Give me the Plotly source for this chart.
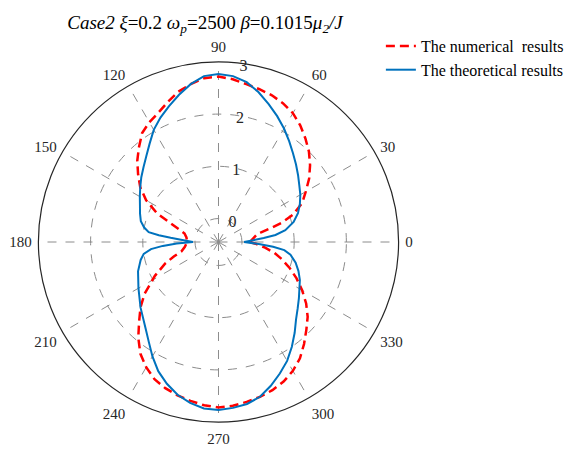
import plotly.graph_objects as go

# Numerical results (red dashed): polar angle in degrees and radius
num_theta = [0, 6, 11, 13, 15, 17, 20, 25, 30, 35, 40, 45, 50, 55, 60, 65, 70, 75, 80, 85, 90,
             95, 100, 105, 110, 115, 120, 125, 130, 135, 140, 145, 150, 155, 158, 162, 166, 172, 180,
             188, 194, 198, 202, 208, 215, 220, 225, 230, 235, 240, 245, 250, 255, 260, 265, 270,
             275, 280, 285, 290, 295, 300, 305, 310, 315, 320, 325, 330, 335, 340, 345, 349, 353, 357, 360]
num_r = [0.15, 0.22, 0.30, 0.40, 0.60, 0.82, 1.06, 1.32, 1.48, 1.67, 1.84, 2.00, 2.14, 2.28, 2.40, 2.48, 2.54, 2.58, 2.62, 2.68, 2.72,
         2.70, 2.62, 2.53, 2.40, 2.28, 2.20, 2.10, 1.92, 1.75, 1.56, 1.38, 1.15, 0.85, 0.58, 0.35, 0.22, 0.17, 0.15,
         0.20, 0.28, 0.45, 0.65, 0.93, 1.28, 1.50, 1.70, 1.94, 2.16, 2.32, 2.45, 2.53, 2.59, 2.64, 2.69, 2.72,
         2.70, 2.66, 2.62, 2.57, 2.50, 2.40, 2.27, 2.10, 1.93, 1.78, 1.60, 1.40, 1.20, 1.00, 0.80, 0.64, 0.45, 0.28, 0.15]

# Theoretical results (blue solid)
theo_theta = [0, 3, 5, 7, 10, 15, 20, 25, 30, 35, 40, 45, 50, 55, 60, 65, 70, 75, 80, 85, 90,
              95, 100, 105, 110, 115, 120, 125, 130, 135, 140, 145, 150, 155, 160, 165, 169, 172, 173.5, 175, 177, 180,
              182, 184, 186, 189, 193, 200, 210, 220, 230, 235, 240, 245, 250, 255, 260, 265, 270,
              275, 280, 285, 290, 295, 300, 305, 310, 315, 320, 325, 330, 335, 340, 345, 350, 353, 355, 357, 360]
theo_r = [0.04, 0.22, 0.42, 0.65, 0.85, 1.04, 1.17, 1.27, 1.36, 1.44, 1.54, 1.65, 1.77, 1.91, 2.06, 2.21, 2.36, 2.52, 2.66, 2.74, 2.77,
          2.74, 2.62, 2.47, 2.32, 2.18, 2.03, 1.85, 1.70, 1.58, 1.48, 1.38, 1.29, 1.21, 1.15, 1.09, 1.00, 0.90, 0.70, 0.47, 0.22, 0.04,
          0.35, 0.62, 0.85, 1.00, 1.08, 1.19, 1.32, 1.50, 1.72, 1.88, 2.08, 2.28, 2.44, 2.58, 2.68, 2.75, 2.77,
          2.74, 2.70, 2.62, 2.48, 2.33, 2.18, 2.00, 1.82, 1.65, 1.53, 1.43, 1.34, 1.27, 1.18, 1.08, 0.95, 0.82, 0.60, 0.35, 0.04]

angle_ticks = [0, 30, 60, 90, 120, 150, 180, 210, 240, 270, 300, 330]
radial_ticks = [0, 1, 2, 3]

W, H = 569, 451
SERIF = "Liberation Serif"

fig = go.Figure()
fig.add_trace(go.Scatterpolar(
    r=num_r, theta=num_theta, mode="lines", name="The numerical  results",
    legendgroup="num",
    line=dict(color="#FF0000", width=2.5, dash="9px,5px")))
fig.add_trace(go.Scatterpolar(
    r=theo_r, theta=theo_theta, mode="lines", name="The theoretical results",
    legendgroup="theo",
    line=dict(color="#0072BD", width=2)))

cx, cy, R = 222, 242, 183
fig.update_layout(
    width=W, height=H,
    margin=dict(l=0, r=0, t=0, b=0),
    paper_bgcolor="white",
    font=dict(family=SERIF, size=15, color="#262626"),
    title=dict(
        text="<i>Case2 ξ</i>=0.2 <i>ω<sub>p</sub></i>=2500 <i>β</i>=0.1015<i>μ<sub>2</sub>/J</i>",
        x=205 / W, xanchor="center", y=1 - 22 / H, yanchor="middle",
        font=dict(family=SERIF, size=19, color="#000000")),
    polar=dict(
        domain=dict(x=[(cx - R) / W, (cx + R) / W], y=[1 - (cy + R) / H, 1 - (cy - R) / H]),
        bgcolor="white",
        radialaxis=dict(
            range=[-0.45, 3], tickvals=radial_ticks, ticks="", showline=False,
            angle=86, tickangle=86, side="clockwise",
            gridcolor="#8c8c8c", griddash="dash", gridwidth=1,
            tickfont=dict(family=SERIF, size=16, color="#262626")),
        angularaxis=dict(
            tickvals=angle_ticks, ticktext=[str(a) for a in angle_ticks],
            direction="counterclockwise", rotation=0,
            showline=True, linecolor="#262626", linewidth=1.2,
            ticks="outside", ticklen=3, tickcolor="rgba(0,0,0,0)",
            gridcolor="#8c8c8c", griddash="dash", gridwidth=1,
            tickfont=dict(family=SERIF, size=15, color="#262626")),
    ),
    legend=dict(x=387 / W, y=1 - 29 / H, xanchor="left", yanchor="top",
                tracegroupgap=16, traceorder="normal",
                bgcolor="rgba(0,0,0,0)", font=dict(family=SERIF, size=16, color="#000000")),
)

fig.write_html("out.html")
